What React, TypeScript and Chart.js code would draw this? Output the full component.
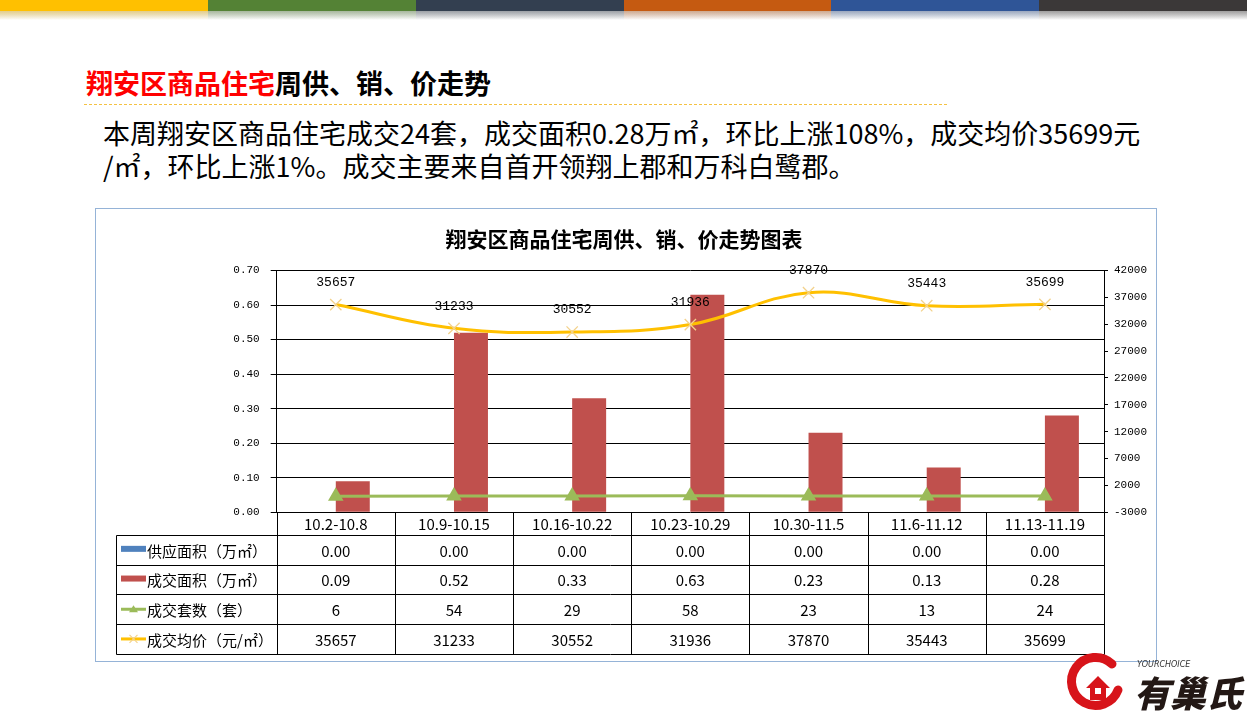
import React, { useEffect, useRef } from "react";
import { Chart, registerables } from "chart.js";

Chart.register(...registerables);

// ---------- data ----------
const categories = ["10.2-10.8", "10.9-10.15", "10.16-10.22", "10.23-10.29", "10.30-11.5", "11.6-11.12", "11.13-11.19"];
const supplyArea = [0, 0, 0, 0, 0, 0, 0];
const dealArea = [0.09, 0.52, 0.33, 0.63, 0.23, 0.13, 0.28];
const dealUnits = [6, 54, 29, 58, 23, 13, 24];
const avgPrice = [35657, 31233, 30552, 31936, 37870, 35443, 35699];
const leftTicks = [0, 0.1, 0.2, 0.3, 0.4, 0.5, 0.6, 0.7];
const rightTicks = [-3000, 2000, 7000, 12000, 17000, 22000, 27000, 32000, 37000, 42000];
const seriesNames = ["供应面积（万㎡）", "成交面积（万㎡）", "成交套数（套）", "成交均价（元/㎡）"];
const chartTitle = "翔安区商品住宅周供、销、价走势图表";
const stripColors = ["#FFC000", "#548235", "#333F50", "#C55A11", "#2F5597", "#3B3838"];

// ---------- styles ----------
const BLUE = "#4F81BD";
const RED = "#C0504D";
const GREEN = "#9BBB59";
const GOLD = "#FFC000";
const CJK = '"Noto Sans CJK SC", "Noto Sans", sans-serif';
const MONO = '"Liberation Mono", "DejaVu Sans Mono", monospace';

const overlayPlugin = {
  id: "overlay",
  afterDatasetsDraw(chart: any) {
    const ctx = chart.ctx;
    const meta = chart.getDatasetMeta(3);
    ctx.save();
    ctx.font = "13px " + MONO;
    ctx.fillStyle = "#000";
    ctx.textAlign = "center";
    ctx.textBaseline = "middle";
    meta.data.forEach((pt: any, i: number) => {
      ctx.fillText(String(avgPrice[i]), pt.x, pt.y - 22);
    });
    ctx.restore();
  },
  afterDraw(chart: any) {
    const ctx = chart.ctx;
    const area = chart.chartArea;
    ctx.save();
    // title
    ctx.font = "bold 21px " + CJK;
    ctx.fillStyle = "#000";
    ctx.textAlign = "center";
    ctx.textBaseline = "middle";
    ctx.fillText(chartTitle, chart.width / 2 - 2, 30);

    // table
    const left = area.left;
    const right = area.right;
    const n = categories.length;
    const colW = (right - left) / n;
    const top = area.bottom;
    const headerH = 22.7;
    const rowH = 29.7;
    const labelLeft = 20.3;
    const rowTops: number[] = [top + headerH];
    for (let i = 1; i <= 4; i++) rowTops.push(top + headerH + rowH * i);
    const bottom = rowTops[4];
    const px = (v: number) => Math.round(v) + 0.5;

    ctx.strokeStyle = "#000";
    ctx.lineWidth = 1;
    ctx.beginPath();
    rowTops.forEach((y) => {
      ctx.moveTo(px(labelLeft), px(y));
      ctx.lineTo(px(right), px(y));
    });
    ctx.moveTo(px(labelLeft), px(rowTops[0]));
    ctx.lineTo(px(labelLeft), px(bottom));
    for (let i = 0; i <= n; i++) {
      const x = px(left + i * colW);
      ctx.moveTo(x, px(top));
      ctx.lineTo(x, px(bottom));
    }
    ctx.stroke();

    ctx.font = "15px " + CJK;
    ctx.fillStyle = "#000";
    ctx.textAlign = "center";
    ctx.textBaseline = "middle";
    categories.forEach((c, i) => {
      ctx.fillText(c, left + (i + 0.5) * colW, top + headerH / 2 + 1);
    });
    const rows = [
      supplyArea.map((v) => v.toFixed(2)),
      dealArea.map((v) => v.toFixed(2)),
      dealUnits.map((v) => String(v)),
      avgPrice.map((v) => String(v)),
    ];
    rows.forEach((vals, r) => {
      const cy = rowTops[r] + rowH / 2 + 1;
      vals.forEach((v, i) => ctx.fillText(v, left + (i + 0.5) * colW, cy));
    });

    // legend keys + labels
    ctx.textAlign = "left";
    const sx0 = 25;
    const sx1 = 50;
    rows.forEach((_, r) => {
      const cy = rowTops[r] + rowH / 2;
      if (r === 0 || r === 1) {
        ctx.fillStyle = r === 0 ? BLUE : RED;
        ctx.fillRect(sx0, cy - 4, sx1 - sx0, 6);
      } else if (r === 2) {
        ctx.strokeStyle = GREEN;
        ctx.lineWidth = 3;
        ctx.beginPath();
        ctx.moveTo(sx0, cy);
        ctx.lineTo(sx1, cy);
        ctx.stroke();
        ctx.fillStyle = GREEN;
        const mx = (sx0 + sx1) / 2;
        ctx.beginPath();
        ctx.moveTo(mx, cy - 4);
        ctx.lineTo(mx + 4.5, cy + 3);
        ctx.lineTo(mx - 4.5, cy + 3);
        ctx.closePath();
        ctx.fill();
      } else {
        ctx.strokeStyle = GOLD;
        ctx.lineWidth = 3;
        ctx.beginPath();
        ctx.moveTo(sx0, cy);
        ctx.lineTo(sx1, cy);
        ctx.stroke();
        ctx.strokeStyle = "#F3D28C";
        ctx.lineWidth = 1.2;
        const mx = (sx0 + sx1) / 2;
        ctx.beginPath();
        ctx.moveTo(mx - 4, cy - 4);
        ctx.lineTo(mx + 4, cy + 4);
        ctx.moveTo(mx + 4, cy - 4);
        ctx.lineTo(mx - 4, cy + 4);
        ctx.stroke();
      }
      ctx.fillStyle = "#000";
      ctx.font = "15px " + CJK;
      ctx.fillText(seriesNames[r], 51, cy + 1);
    });
    ctx.restore();
  },
};

export default function App() {
  const canvasRef = useRef<HTMLCanvasElement>(null);

  useEffect(() => {
    if (!canvasRef.current) return;
    const chart = new Chart(canvasRef.current, {
      type: "bar",
      data: {
        labels: categories,
        datasets: [
          {
            type: "bar",
            label: seriesNames[0],
            data: supplyArea,
            backgroundColor: BLUE,
            yAxisID: "y",
            order: 2,
            categoryPercentage: 0.575,
            barPercentage: 1,
          },
          {
            type: "bar",
            label: seriesNames[1],
            data: dealArea,
            backgroundColor: RED,
            yAxisID: "y",
            order: 2,
            categoryPercentage: 0.575,
            barPercentage: 1,
          },
          {
            type: "line",
            label: seriesNames[2],
            data: dealUnits,
            borderColor: GREEN,
            backgroundColor: GREEN,
            borderWidth: 3,
            pointStyle: "triangle",
            pointRadius: 6,
            pointBackgroundColor: GREEN,
            pointBorderColor: GREEN,
            yAxisID: "y1",
            order: 1,
            tension: 0,
          },
          {
            type: "line",
            label: seriesNames[3],
            data: avgPrice,
            borderColor: GOLD,
            backgroundColor: GOLD,
            borderWidth: 3,
            pointStyle: "crossRot",
            pointRadius: 8,
            pointBorderWidth: 1.3,
            pointBorderColor: "#F3D28C",
            yAxisID: "y1",
            order: 0,
            tension: 0.4,
          },
        ] as any,
      },
      options: {
        responsive: false,
        animation: false,
        layout: { padding: { top: 61.5, bottom: 148.7, left: 0, right: 0 } },
        plugins: {
          legend: { display: false },
          title: { display: false },
          tooltip: { enabled: false },
        },
        scales: {
          x: { display: false, offset: true, grid: { display: false } },
          y: {
            position: "left",
            min: 0,
            max: 0.7,
            afterBuildTicks: (s: any) => {
              s.ticks = leftTicks.map((v) => ({ value: v }));
            },
            afterFit: (s: any) => {
              s.width = 180.7;
            },
            ticks: {
              color: "#000",
              font: { family: MONO, size: 11 },
              padding: 11,
              callback: (v: any) => Number(v).toFixed(2),
            },
            grid: { color: "#000", lineWidth: 1, tickLength: 6, drawTicks: true },
            border: { display: true, color: "#000", width: 1 },
          },
          y1: {
            position: "right",
            min: -3000,
            max: 42000,
            afterBuildTicks: (s: any) => {
              s.ticks = rightTicks.map((v) => ({ value: v }));
            },
            afterFit: (s: any) => {
              s.width = 52;
            },
            ticks: {
              color: "#000",
              font: { family: MONO, size: 11 },
              padding: 6,
              callback: (v: any) => String(v),
            },
            grid: { drawOnChartArea: false, color: "#000", tickLength: 4, drawTicks: true },
            border: { display: true, color: "#000", width: 1 },
          },
        },
      } as any,
      plugins: [overlayPlugin],
    });
    return () => chart.destroy();
  }, []);

  return (
    <div
      style={{
        position: "absolute",
        left: 0,
        top: 0,
        width: 1247,
        height: 718,
        overflow: "hidden",
        background: "#fff",
        fontFamily: CJK,
      }}
    >
      {stripColors.map((c, i) => (
        <div
          key={i}
          style={{
            position: "absolute",
            left: Math.round((i * 1247) / 6),
            top: 0,
            width: Math.round(((i + 1) * 1247) / 6) - Math.round((i * 1247) / 6),
            height: 20,
            background: `linear-gradient(to bottom, ${c} 0px, ${c} 11px, rgba(160,160,160,0.45) 11px, rgba(255,255,255,0) 20px)`,
          }}
        >
          <div
            style={{
              position: "absolute",
              left: 0,
              top: 11,
              width: "100%",
              height: 9,
              background: `linear-gradient(to bottom, ${c}, rgba(255,255,255,0))`,
              opacity: 0.35,
            }}
          />
        </div>
      ))}

      <div
        style={{
          position: "absolute",
          left: 86,
          top: 68,
          fontSize: 27,
          lineHeight: "30px",
          fontWeight: 700,
          whiteSpace: "nowrap",
        }}
      >
        <span style={{ color: "#FF0000" }}>翔安区商品住宅</span>
        <span style={{ color: "#000" }}>周供、销、价走势</span>
      </div>
      <div
        style={{
          position: "absolute",
          left: 84,
          top: 104,
          width: 864,
          height: 1,
          background: "repeating-linear-gradient(to right, #F5C242 0px, #F5C242 3px, rgba(255,255,255,0) 3px, rgba(255,255,255,0) 5px)",
        }}
      />
      <div
        style={{
          position: "absolute",
          left: 103,
          top: 116,
          fontSize: 27,
          lineHeight: "33px",
          color: "#000",
          whiteSpace: "nowrap",
        }}
      >
        本周翔安区商品住宅成交24套，成交面积0.28万㎡，环比上涨108%，成交均价35699元
        <br />
        /㎡，环比上涨1%。成交主要来自首开领翔上郡和万科白鹭郡。
      </div>

      <div
        style={{
          position: "absolute",
          left: 95,
          top: 208,
          width: 1060,
          height: 452,
          border: "1px solid #95B3D7",
        }}
      >
        <canvas ref={canvasRef} width={1060} height={452} style={{ display: "block", width: 1060, height: 452 }} />
      </div>

      <svg style={{ position: "absolute", left: 1060, top: 650 }} width={187} height={68} viewBox="0 0 187 68">
        <path d="M 52 14 A 24 24 0 1 0 58 40" fill="none" stroke="#D7141A" strokeWidth={9} strokeLinecap="round" />
        <path d="M 26 38 L 38 26 L 50 38 L 46 38 L 46 50 L 30 50 L 30 38 Z" fill="#D7141A" />
        <rect x={35} y={38} width={6} height={6} fill="#fff" />
        <text x={77} y={17} fontSize={8} fontStyle="italic" fill="#333" fontFamily="DejaVu Sans">
          YOURCHOICE
        </text>
        <text x={74} y={57} fontSize={36} fontWeight={900} fontStyle="italic" fill="#231815" fontFamily={CJK}>
          有巢氏
        </text>
      </svg>
    </div>
  );
}
